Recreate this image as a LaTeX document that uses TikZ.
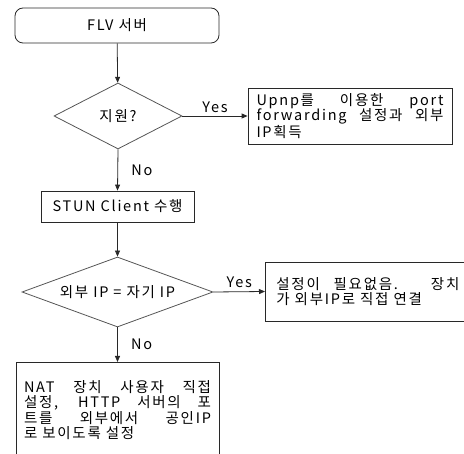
\documentclass[tikz,border=0pt]{standalone}
\usepackage{fontspec}
\setmainfont{Noto Sans CJK KR}[LetterSpace=12]
\usetikzlibrary{arrows.meta,positioning,shapes.geometric}
\definecolor{linegray}{RGB}{40,40,40}
\definecolor{diagray}{RGB}{85,85,85}

\begin{document}
\begin{tikzpicture}[x=1pt, y=-1pt, font=\fontsize{14.5}{15.5}\selectfont, every node/.style={align=center}, line width=0.8pt]
\clip (0,0) rectangle (464,454);
\node[draw=linegray, rounded corners=8pt, minimum width=204pt, minimum height=35pt] (flv) at (117,25.5) {FLV 서버};
\node[draw=diagray, diamond, aspect=1.94, inner sep=0pt, minimum width=128pt, minimum height=66pt] (support) at (118,116) {지원?};
\node[draw=linegray, minimum width=204pt, minimum height=56pt, text width=187pt, inner xsep=8pt, align=justify] (upnp) at (350,116) {Upnp를 이용한 port\linebreak forwarding 설정과 외부\linebreak IP획득};
\node[draw=linegray, minimum width=153pt, minimum height=31pt] (stun) at (117.5,206.5) {STUN Client 수행};
\node[draw=diagray, diamond, aspect=2.73, inner sep=0pt, minimum width=191pt, minimum height=70pt] (ipcheck) at (117.5,292) {외부 IP = 자기 IP};
\node[draw=linegray, anchor=west, minimum width=205pt, minimum height=59pt, text width=183pt, inner xsep=10pt, align=justify] (direct) at (265,291.5) {설정이 필요없음. 장치\linebreak 가 외부IP로 직접 연결};
\node[draw=linegray, anchor=north, minimum width=203pt, text width=187pt, inner xsep=8pt, inner ysep=18pt, align=justify] (nat) at (117.5,362) {NAT 장치 사용자 직접\linebreak 설정, HTTP 서버의 포\linebreak 트를 외부에서 공인IP\linebreak 로 보이도록 설정};
\draw[-{Triangle[length=6pt,width=5pt]}, linegray] (flv) -- (support);
\draw[-{Triangle[length=6pt,width=5pt]}, linegray] (support.east) -- node[above, text=black] {Yes} (upnp.west);
\draw[-{Triangle[length=6pt,width=5pt]}, linegray] (support.south) -- node[right=10pt, text=black] {No} (stun.north);
\draw[-{Triangle[length=6pt,width=5pt]}, linegray] (stun) -- (ipcheck);
\draw[-{Triangle[length=6pt,width=5pt]}, linegray] (ipcheck.east) -- node[above, text=black] {Yes} (direct.west);
\draw[-{Triangle[length=6pt,width=5pt]}, linegray] (ipcheck.south) -- node[right=10pt, text=black] {No} (nat.north);
\end{tikzpicture}
\end{document}
